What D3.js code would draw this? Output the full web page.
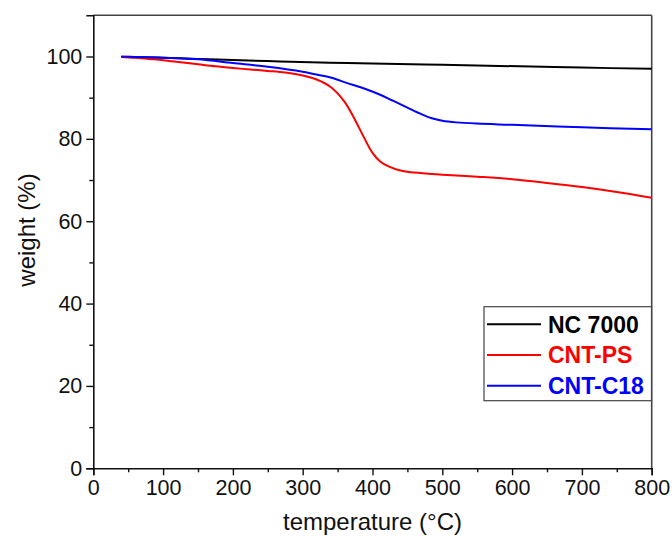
<!DOCTYPE html>
<html>
<head>
<meta charset="utf-8">
<script src="https://cdn.jsdelivr.net/npm/d3@7"></script>
<style>
  html, body { margin: 0; padding: 0; background: #fff; }
  svg { display: block; font-family: "Liberation Sans", Arial, sans-serif; }
</style>
</head>
<body>
<svg id="chart" width="672" height="536"></svg>
<script>
// TGA curves: weight retained (%) vs temperature (°C)
const seriesNames = ["NC 7000", "CNT-PS", "CNT-C18"];
const seriesColors = ["#000000", "#ff0000", "#0000ff"];

const tempNC = [40, 100, 150, 200, 268, 339, 400, 500, 611, 700, 800];
const weightNC = [99.9, 99.7, 99.4, 99.15, 98.8, 98.5, 98.3, 98.0, 97.6, 97.3, 97.0];

const tempPS = [40, 60, 80, 100, 125, 150, 175, 200, 225, 250, 275, 300, 320, 340, 360, 375, 387, 400, 411, 423, 440, 460, 500, 550, 600, 650, 700, 750, 800];
const weightPS = [99.9, 99.7, 99.4, 99.1, 98.6, 98.1, 97.6, 97.2, 96.85, 96.5, 96.1, 95.4, 94.4, 92.6, 89.0, 84.6, 80.6, 76.6, 74.5, 73.3, 72.3, 71.8, 71.3, 70.8, 70.2, 69.3, 68.3, 67.1, 65.7];

const tempC18 = [40, 60, 100, 150, 200, 250, 300, 320, 340, 363, 390, 411, 430, 450, 470, 485, 500, 520, 550, 600, 700, 800];
const weightC18 = [100, 99.9, 99.7, 99.3, 98.4, 97.5, 96.3, 95.6, 94.9, 93.6, 92.1, 90.7, 89.2, 87.6, 86.0, 85.0, 84.4, 84.0, 83.7, 83.4, 82.8, 82.3];

const xTicks = [0, 100, 200, 300, 400, 500, 600, 700, 800];
const yTicks = [0, 20, 40, 60, 80, 100];

const series = [
  { name: seriesNames[0], color: seriesColors[0], t: tempNC, w: weightNC },
  { name: seriesNames[1], color: seriesColors[1], t: tempPS, w: weightPS },
  { name: seriesNames[2], color: seriesColors[2], t: tempC18, w: weightC18 }
];

const svg = d3.select("#chart");
const m = { left: 93.3, right: 651.7, top: 15.3, bottom: 468.3 };

const x = d3.scaleLinear().domain([0, 800]).range([m.left, m.right]);
const y = d3.scaleLinear().domain([0, 110]).range([m.bottom, m.top]);

// frame: top and right edges
svg.append("line").attr("x1", m.left).attr("x2", m.right).attr("y1", m.top).attr("y2", m.top)
  .attr("stroke", "#444").attr("stroke-width", 1.6);
svg.append("line").attr("x1", m.right).attr("x2", m.right).attr("y1", m.top).attr("y2", m.bottom)
  .attr("stroke", "#444").attr("stroke-width", 1.6);

// curves
const line = d3.line().x(d => x(d[0])).y(d => y(d[1])).curve(d3.curveCatmullRom.alpha(0.5));
const plot = svg.append("g");
series.forEach(s => {
  plot.append("path")
    .datum(s.t.map((t, i) => [t, s.w[i]]))
    .attr("d", line)
    .attr("fill", "none")
    .attr("stroke", s.color)
    .attr("stroke-width", 2)
    .attr("stroke-linejoin", "round");
});

// x axis
svg.append("g").attr("transform", `translate(0,${m.bottom})`)
  .call(d3.axisBottom(x).tickValues(xTicks).tickSize(7).tickPadding(4).tickFormat(d3.format("d")));
svg.append("g").attr("transform", `translate(0,${m.bottom})`)
  .call(d3.axisBottom(x).tickValues(d3.range(50, 800, 100)).tickSize(4).tickFormat(""))
  .call(g => g.select(".domain").remove());

// y axis
svg.append("g").attr("transform", `translate(${m.left},0)`)
  .call(d3.axisLeft(y).tickValues(yTicks).tickSize(7).tickPadding(4).tickFormat(d3.format("d")));
svg.append("g").attr("transform", `translate(${m.left},0)`)
  .call(d3.axisLeft(y).tickValues([10, 30, 50, 70, 90]).tickSize(4).tickFormat(""))
  .call(g => g.select(".domain").remove());

svg.selectAll(".domain").attr("stroke", "#111").attr("stroke-width", 1.6);
svg.selectAll(".tick line").attr("stroke", "#111").attr("stroke-width", 1.4);
svg.selectAll(".tick text").attr("font-size", 21.5).attr("fill", "#111")
  .attr("font-family", "'Liberation Sans', Arial, sans-serif");

// axis titles
svg.append("text").attr("x", (m.left + m.right) / 2).attr("y", 530)
  .attr("text-anchor", "middle").attr("font-size", 24).attr("fill", "#111")
  .text("temperature (°C)");
svg.append("text").attr("transform", `translate(35,230) rotate(-90)`)
  .attr("text-anchor", "middle").attr("font-size", 24).attr("fill", "#111")
  .text("weight (%)");

// legend
const lg = svg.append("g");
lg.append("rect").attr("x", 484).attr("y", 306.7).attr("width", 167.5).attr("height", 94)
  .attr("fill", "#fff").attr("stroke", "#444").attr("stroke-width", 1.2);
series.forEach((s, i) => {
  const cy = 324.3 + i * 30.7;
  lg.append("line").attr("x1", 487).attr("x2", 541).attr("y1", cy).attr("y2", cy)
    .attr("stroke", s.color).attr("stroke-width", 2);
  lg.append("text").attr("x", 548).attr("y", cy + 8.3)
    .attr("font-size", 23).attr("font-weight", "bold").attr("fill", s.color)
    .text(s.name);
});
</script>
</body>
</html>
